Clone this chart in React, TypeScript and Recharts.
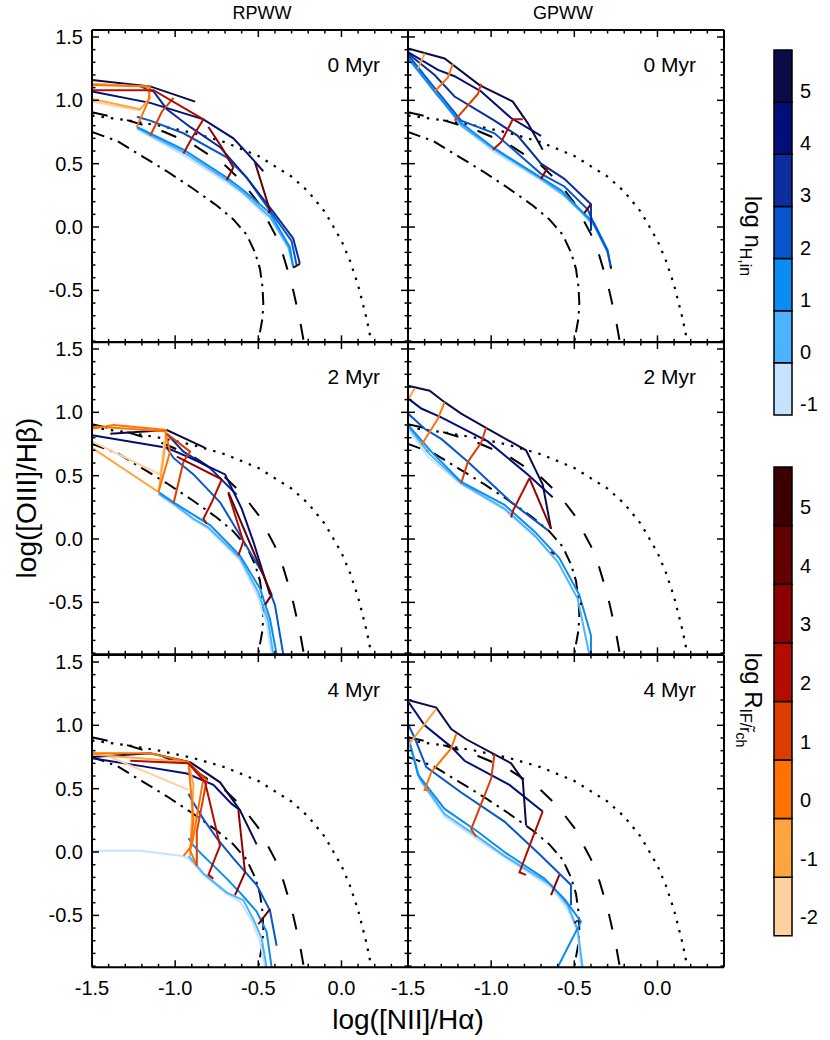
import React from "react";
import { ComposedChart, Line, XAxis, YAxis, BarChart, Bar } from "recharts";

type Pt = [number, number];
type Track = { v: number; pts: Pt[] };

// axis ticks (0.1 minor steps, labels on multiples of 0.5)
const xTicks = [-1.5, -1.4, -1.3, -1.2, -1.1, -1.0, -0.9, -0.8, -0.7, -0.6, -0.5, -0.4, -0.3, -0.2, -0.1, 0.0, 0.1, 0.2, 0.3];
const yTicks = [-0.9, -0.8, -0.7, -0.6, -0.5, -0.4, -0.3, -0.2, -0.1, 0.0, 0.1, 0.2, 0.3, 0.4, 0.5, 0.6, 0.7, 0.8, 0.9, 1.0, 1.1, 1.2, 1.3, 1.4, 1.5];

// demarcation curves
const kewley01: Pt[] = [[-1.5, 0.88], [-1.3, 0.845], [-1.1, 0.801], [-0.9, 0.745], [-0.7, 0.669], [-0.5, 0.561], [-0.3, 0.398], [-0.2, 0.28], [-0.1, 0.12], [0.0, -0.108], [0.05, -0.262], [0.1, -0.459], [0.15, -0.716], [0.18, -0.91]];
const kauffmann03: Pt[] = [[-1.5, 0.906], [-1.3, 0.848], [-1.1, 0.77], [-0.9, 0.658], [-0.7, 0.487], [-0.6, 0.362], [-0.5, 0.191], [-0.4, -0.056], [-0.35, -0.225], [-0.3, -0.443], [-0.25, -0.733], [-0.226, -0.91]];
const dashDotCurve: Pt[] = [[-1.5, 0.75], [-1.35, 0.68], [-1.2, 0.56], [-1.05, 0.44], [-0.9, 0.31], [-0.75, 0.17], [-0.65, 0.06], [-0.57, -0.06], [-0.52, -0.2], [-0.49, -0.33], [-0.475, -0.47], [-0.47, -0.6], [-0.475, -0.72], [-0.49, -0.83], [-0.5, -0.91]];

const nhLevels = [-1, 0, 1, 2, 3, 4, 5];
const rLevels = [-2, -1, 0, 1, 2, 3, 4, 5];
const panelAges = ["0 Myr", "2 Myr", "4 Myr"];
const columnNames = ["RPWW", "GPWW"];

// RPWW, 0 Myr
const rpww0Blue: Track[] = [
  { v: 5, pts: [[-1.5, 1.16], [-1.15, 1.11], [-0.88, 0.99]] },
  { v: 4, pts: [[-1.5, 1.07], [-1.15, 0.98], [-0.83, 0.85], [-0.65, 0.7], [-0.53, 0.53], [-0.47, 0.44]] },
  { v: 3, pts: [[-1.21, 1.11], [-1.13, 1.07], [-1.05, 0.93], [-0.91, 0.79], [-0.73, 0.63], [-0.57, 0.39], [-0.41, 0.12], [-0.29, -0.09], [-0.25, -0.29]] },
  { v: 2, pts: [[-1.23, 0.87], [-1.15, 0.84], [-0.95, 0.74], [-0.69, 0.55], [-0.57, 0.39], [-0.43, 0.13], [-0.3, -0.11], [-0.27, -0.3]] },
  { v: 1, pts: [[-1.23, 0.79], [-0.95, 0.61], [-0.69, 0.39], [-0.59, 0.29], [-0.43, 0.11], [-0.31, -0.16], [-0.29, -0.32]] },
  { v: 0, pts: [[-1.23, 0.78], [-0.95, 0.59], [-0.69, 0.37], [-0.59, 0.27], [-0.43, 0.08], [-0.32, -0.16], [-0.29, -0.31]] },
  { v: -1, pts: [[-1.23, 0.77], [-0.95, 0.57], [-0.69, 0.35], [-0.59, 0.26], [-0.45, 0.08]] },
];
const rpww0Red: Track[] = [
  { v: -2, pts: [[-1.5, 0.99], [-1.21, 0.92]] },
  { v: -1, pts: [[-1.5, 1.01], [-1.21, 0.93], [-1.15, 1.02], [-1.17, 1.11], [-1.5, 1.13]] },
  { v: 0, pts: [[-1.5, 1.12], [-1.15, 1.11], [-1.16, 1.0], [-1.23, 0.79]] },
  { v: 1, pts: [[-1.01, 1.02], [-1.08, 0.91], [-1.15, 0.72]] },
  { v: 2, pts: [[-1.5, 1.08], [-1.13, 1.08], [-0.83, 0.85], [-0.9, 0.7], [-0.95, 0.58]] },
  { v: 3, pts: [[-0.8, 0.79], [-0.72, 0.63], [-0.65, 0.47], [-0.69, 0.37]] },
  { v: 4, pts: [[-0.52, 0.51], [-0.43, 0.13], [-0.44, 0.11]] },
  { v: 5, pts: [[-0.29, -0.32], [-0.25, -0.29]] },
];

// GPWW, 0 Myr
const gpww0Blue: Track[] = [
  { v: 5, pts: [[-1.5, 1.41], [-1.28, 1.33], [-1.07, 1.12], [-0.87, 0.99], [-0.78, 0.82], [-0.69, 0.61]] },
  { v: 4, pts: [[-1.5, 1.38], [-1.32, 1.24], [-1.22, 1.19], [-1.06, 1.07], [-0.88, 0.86], [-0.7, 0.72]] },
  { v: 3, pts: [[-1.5, 1.37], [-1.34, 1.2], [-1.22, 1.03], [-0.98, 0.84], [-0.84, 0.72], [-0.7, 0.5], [-0.56, 0.38], [-0.4, 0.18], [-0.4, -0.03]] },
  { v: 2, pts: [[-1.5, 1.36], [-1.36, 1.13], [-1.18, 0.84], [-0.98, 0.74], [-0.7, 0.42], [-0.56, 0.32], [-0.42, 0.14], [-0.38, 0.02], [-0.3, -0.19], [-0.28, -0.32]] },
  { v: 1, pts: [[-1.5, 1.34], [-1.33, 1.05], [-1.18, 0.82], [-0.98, 0.62], [-0.7, 0.39], [-0.58, 0.29], [-0.46, 0.13], [-0.38, 0.03], [-0.3, -0.18], [-0.28, -0.32]] },
  { v: 0, pts: [[-1.5, 1.33], [-1.32, 1.04], [-1.18, 0.8], [-0.98, 0.61], [-0.7, 0.38], [-0.58, 0.27], [-0.46, 0.12], [-0.38, 0.01], [-0.3, -0.2], [-0.28, -0.32]] },
  { v: -1, pts: [[-1.5, 1.33], [-1.31, 1.03], [-1.17, 0.79], [-0.98, 0.59], [-0.7, 0.37], [-0.58, 0.26]] },
];
const gpww0Red: Track[] = [
  { v: -1, pts: [[-1.4, 1.37], [-1.44, 1.25]] },
  { v: 0, pts: [[-1.23, 1.29], [-1.26, 1.18], [-1.34, 1.07]] },
  { v: 1, pts: [[-1.06, 1.13], [-1.08, 1.05], [-1.22, 0.84]] },
  { v: 2, pts: [[-0.81, 0.85], [-0.87, 0.85], [-0.94, 0.67], [-0.99, 0.61]] },
  { v: 3, pts: [[-0.66, 0.47], [-0.7, 0.38]] },
  { v: 4, pts: [[-0.4, 0.18], [-0.44, 0.11]] },
  { v: 5, pts: [[-0.28, -0.31], [-0.28, -0.33]] },
];

// RPWW, 2 Myr
const rpww2Blue: Track[] = [
  { v: 5, pts: [[-1.39, 0.83], [-1.05, 0.86], [-0.82, 0.72]] },
  { v: 4, pts: [[-1.5, 0.82], [-1.05, 0.72], [-0.91, 0.64], [-0.7, 0.51], [-0.6, 0.24], [-0.53, -0.02], [-0.43, -0.44]] },
  { v: 3, pts: [[-1.05, 0.83], [-0.95, 0.69], [-0.79, 0.56], [-0.63, 0.35]] },
  { v: 2, pts: [[-1.05, 0.72], [-1.01, 0.64], [-0.89, 0.51], [-0.73, 0.29], [-0.61, 0.03], [-0.47, -0.28], [-0.4, -0.52], [-0.35, -0.91]] },
  { v: 1, pts: [[-1.1, 0.37], [-1.01, 0.29], [-0.89, 0.19], [-0.79, 0.11], [-0.61, -0.13], [-0.49, -0.39], [-0.43, -0.63], [-0.39, -0.91]] },
  { v: 0, pts: [[-1.1, 0.36], [-1.01, 0.28], [-0.89, 0.16], [-0.8, 0.09], [-0.61, -0.15], [-0.5, -0.42], [-0.44, -0.65], [-0.41, -0.91]] },
  { v: -1, pts: [[-1.1, 0.35], [-1.01, 0.27], [-0.89, 0.15], [-0.8, 0.08], [-0.61, -0.17], [-0.51, -0.43], [-0.45, -0.67], [-0.42, -0.91]] },
];
const rpww2Red: Track[] = [
  { v: -2, pts: [[-1.5, 0.77], [-1.09, 0.51], [-1.06, 0.82]] },
  { v: -1, pts: [[-1.5, 0.72], [-1.1, 0.37], [-1.07, 0.64], [-1.05, 0.84]] },
  { v: 0, pts: [[-1.5, 0.89], [-1.06, 0.85], [-1.03, 0.69], [-1.07, 0.51], [-1.1, 0.37]] },
  { v: 0, pts: [[-1.5, 0.87], [-1.37, 0.9], [-1.05, 0.86]] },
  { v: 1, pts: [[-1.05, 0.83], [-0.91, 0.69], [-0.95, 0.61], [-1.01, 0.28]] },
  { v: 2, pts: [[-0.72, 0.47], [-0.78, 0.29], [-0.83, 0.16], [-0.81, 0.12]] },
  { v: 3, pts: [[-0.99, 0.65], [-0.72, 0.47]] },
  { v: 2, pts: [[-0.68, 0.36], [-0.59, -0.02], [-0.62, -0.13]] },
  { v: 4, pts: [[-0.68, 0.37], [-0.5, -0.19], [-0.42, -0.44], [-0.46, -0.52]] },
];

// GPWW, 2 Myr
const gpww2Blue: Track[] = [
  { v: 5, pts: [[-1.5, 1.21], [-1.37, 1.17], [-1.28, 1.08], [-1.18, 0.99], [-1.02, 0.87], [-0.79, 0.7], [-0.72, 0.51], [-0.69, 0.43], [-0.64, 0.08]] },
  { v: 4, pts: [[-1.5, 1.11], [-1.42, 1.03], [-1.3, 0.96], [-1.02, 0.77], [-0.78, 0.51], [-0.63, 0.33]] },
  { v: 2, pts: [[-1.5, 0.99], [-1.4, 0.87], [-1.3, 0.79], [-1.14, 0.61], [-0.88, 0.29], [-0.66, 0.07]] },
  { v: 1, pts: [[-1.5, 0.9], [-1.36, 0.69], [-1.18, 0.45], [-0.92, 0.27], [-0.74, 0.06], [-0.59, -0.15], [-0.47, -0.44], [-0.4, -0.76], [-0.4, -0.91]] },
  { v: 0, pts: [[-1.5, 0.89], [-1.37, 0.67], [-1.18, 0.44], [-0.92, 0.24], [-0.74, 0.03], [-0.6, -0.18], [-0.48, -0.47], [-0.41, -0.91]] },
  { v: -1, pts: [[-1.5, 0.87], [-1.38, 0.65], [-1.18, 0.43], [-0.92, 0.23], [-0.74, 0.02]] },
];
const gpww2Red: Track[] = [
  { v: -1, pts: [[-1.46, 1.19], [-1.5, 1.1]] },
  { v: 0, pts: [[-1.28, 1.08], [-1.32, 0.95], [-1.42, 0.74]] },
  { v: 1, pts: [[-1.03, 0.88], [-1.06, 0.76], [-1.14, 0.61], [-1.18, 0.44]] },
  { v: 2, pts: [[-0.77, 0.48], [-0.87, 0.22], [-0.88, 0.17]] },
  { v: 3, pts: [[-0.77, 0.48], [-0.64, 0.08]] },
  { v: 4, pts: [[-0.64, -0.1], [-0.62, -0.12]] },
  { v: 5, pts: [[-0.46, -0.5], [-0.46, -0.52]] },
];

// RPWW, 4 Myr
const rpww4Blue: Track[] = [
  { v: 5, pts: [[-1.5, 0.75], [-1.15, 0.78], [-0.91, 0.71], [-0.73, 0.55], [-0.61, 0.33], [-0.51, 0.06]] },
  { v: 4, pts: [[-1.5, 0.74], [-1.21, 0.68], [-0.93, 0.62], [-0.77, 0.53], [-0.66, 0.38], [-0.61, 0.33]] },
  { v: 2, pts: [[-0.92, 0.46], [-0.9, 0.41], [-0.83, 0.26], [-0.75, 0.11], [-0.65, -0.05], [-0.51, -0.26], [-0.43, -0.46], [-0.39, -0.74]] },
  { v: 1, pts: [[-0.92, 0.11], [-0.89, 0.05], [-0.83, -0.03], [-0.69, -0.21], [-0.61, -0.32], [-0.51, -0.47], [-0.45, -0.63], [-0.42, -0.91]] },
  { v: 0, pts: [[-0.92, -0.03], [-0.83, -0.17], [-0.69, -0.32], [-0.59, -0.38], [-0.53, -0.53], [-0.48, -0.68], [-0.45, -0.91]] },
  { v: -1, pts: [[-1.5, 0.01], [-1.21, 0.01], [-0.97, -0.03], [-0.92, -0.05], [-0.83, -0.18], [-0.69, -0.33], [-0.61, -0.39], [-0.54, -0.54], [-0.49, -0.7], [-0.46, -0.91]] },
];
const rpww4Red: Track[] = [
  { v: -2, pts: [[-1.39, 0.75], [-0.92, 0.49]] },
  { v: -1, pts: [[-1.5, 0.77], [-0.92, 0.71], [-0.89, 0.53], [-0.91, -0.03]] },
  { v: 0, pts: [[-1.5, 0.78], [-1.15, 0.78], [-0.92, 0.71], [-0.83, 0.58], [-0.9, 0.05], [-0.95, -0.03]] },
  { v: 0, pts: [[-0.92, 0.7], [-0.89, 0.26], [-0.91, 0.01], [-0.87, -0.11]] },
  { v: 1, pts: [[-0.91, 0.69], [-0.81, 0.57], [-0.87, 0.16], [-0.87, -0.11]] },
  { v: 2, pts: [[-1.27, 0.72], [-0.92, 0.7], [-0.82, 0.55], [-0.73, 0.05], [-0.8, -0.18], [-0.77, -0.21]] },
  { v: 3, pts: [[-0.62, 0.33], [-0.58, -0.16], [-0.64, -0.34]] },
  { v: 4, pts: [[-0.43, -0.45], [-0.5, -0.57]] },
];

// GPWW, 4 Myr
const gpww4Blue: Track[] = [
  { v: 5, pts: [[-1.5, 1.2], [-1.33, 1.14], [-1.24, 0.97], [-1.15, 0.89], [-0.98, 0.77], [-0.88, 0.7], [-0.81, 0.57], [-0.79, 0.21]] },
  { v: 4, pts: [[-1.5, 1.19], [-1.4, 1.0], [-1.24, 0.83], [-1.16, 0.72], [-0.89, 0.53], [-0.69, 0.32]] },
  { v: 2, pts: [[-1.5, 1.01], [-1.46, 0.9], [-1.39, 0.67], [-1.18, 0.47], [-0.92, 0.24], [-0.7, -0.03], [-0.52, -0.26], [-0.52, -0.42]] },
  { v: 1, pts: [[-1.5, 0.92], [-1.44, 0.61], [-1.28, 0.34], [-1.08, 0.16], [-0.92, 0.0], [-0.68, -0.21], [-0.56, -0.37], [-0.46, -0.55], [-0.6, -0.91]] },
  { v: 0, pts: [[-1.5, 0.89], [-1.43, 0.58], [-1.28, 0.3], [-1.08, 0.12], [-0.92, -0.03], [-0.64, -0.26], [-0.54, -0.42], [-0.48, -0.61], [-0.45, -0.91]] },
  { v: -1, pts: [[-1.49, 0.87], [-1.42, 0.55], [-1.28, 0.28], [-1.08, 0.1], [-0.92, -0.04], [-0.64, -0.28], [-0.54, -0.45], [-0.48, -0.63], [-0.46, -0.91]] },
];
const gpww4Red: Track[] = [
  { v: -2, pts: [[-1.5, 1.2], [-1.49, 1.19]] },
  { v: -1, pts: [[-1.33, 1.13], [-1.5, 0.84]] },
  { v: 0, pts: [[-1.21, 0.93], [-1.24, 0.82], [-1.36, 0.63], [-1.4, 0.49], [-1.37, 0.49]] },
  { v: 1, pts: [[-0.98, 0.77], [-1.0, 0.58], [-1.12, 0.18], [-1.09, 0.12]] },
  { v: 2, pts: [[-0.69, 0.32], [-0.83, -0.16], [-0.79, -0.18]] },
  { v: 3, pts: [[-0.59, -0.18], [-0.64, -0.34]] },
  { v: 4, pts: [[-0.5, -0.56], [-0.48, -0.54]] },
];

const NH_COLORS: Record<number, string> = {
  [-1]: "#c4e3ff", 0: "#4db3ff", 1: "#0a8cf2", 2: "#0657cd", 3: "#0b2e9c", 4: "#020f78", 5: "#0b0b48",
};
const R_COLORS: Record<number, string> = {
  [-2]: "#ffd19e", [-1]: "#ffa540", 0: "#ff7200", 1: "#dc3d00", 2: "#b40d00", 3: "#8e0000", 4: "#650000", 5: "#3d0000",
};

const FONT = "'Liberation Sans', Arial, Helvetica, sans-serif";
const PLOT_W = 316;
const PLOT_H = 312.33;
const ML = 60;
const MB = 40;
const COLS = [92, 408];
const ROWS = [30, 342.33, 654.67];
const TITLE_X = [262, 563];

const xy = (pts: Pt[]) => pts.map(([x, y]) => ({ x, y }));

function AxisTick(props: any) {
  const { x, y, payload, side, labelled } = props;
  const v = Number(payload.value);
  const major = Math.abs(v * 2 - Math.round(v * 2)) < 1e-6;
  const len = major ? 7 : 3.5;
  let line;
  if (side === "bottom") line = <line x1={x} y1={y} x2={x} y2={y - len} />;
  else if (side === "top") line = <line x1={x} y1={y} x2={x} y2={y + len} />;
  else if (side === "left") line = <line x1={x} y1={y} x2={x + len} y2={y} />;
  else line = <line x1={x} y1={y} x2={x - len} y2={y} />;
  return (
    <g>
      <g stroke="#000" strokeWidth={1.5}>{line}</g>
      {labelled && major && side === "bottom" && (
        <text x={x} y={y + 28} textAnchor="middle" fontSize={20} fontFamily={FONT} fill="#000">{v.toFixed(1)}</text>
      )}
      {labelled && major && side === "left" && (
        <text x={x - 9} y={y + 7} textAnchor="end" fontSize={20} fontFamily={FONT} fill="#000">{v.toFixed(1)}</text>
      )}
    </g>
  );
}

const frame = { stroke: "#000", strokeWidth: 2 };

function Panel({ col, row, blue, red }: { col: number; row: number; blue: Track[]; red: Track[] }) {
  const xLab = row === 2;
  const yLab = col === 0;
  const blueSorted = [...blue].sort((a, b) => a.v - b.v);
  const redSorted = [...red].sort((a, b) => a.v - b.v);
  return (
    <div style={{ position: "absolute", left: COLS[col] - ML, top: ROWS[row] - 10 }}>
      <ComposedChart width={ML + PLOT_W + 10} height={10 + PLOT_H + MB} margin={{ top: 0, right: 0, bottom: 0, left: 0 }}>
        <XAxis xAxisId="b" type="number" dataKey="x" domain={[-1.5, 0.4]} allowDataOverflow ticks={xTicks} interval={0}
          height={MB} tickSize={0} tickMargin={0} axisLine={frame} tickLine={false}
          tick={(p: any) => <AxisTick {...p} side="bottom" labelled={xLab} />} />
        <XAxis xAxisId="t" orientation="top" type="number" dataKey="x" domain={[-1.5, 0.4]} allowDataOverflow ticks={xTicks} interval={0}
          height={10} tickSize={0} tickMargin={0} axisLine={frame} tickLine={false}
          tick={(p: any) => <AxisTick {...p} side="top" />} />
        <YAxis yAxisId="l" type="number" dataKey="y" domain={[-0.91, 1.555]} allowDataOverflow ticks={yTicks} interval={0}
          width={ML} tickSize={0} tickMargin={0} axisLine={frame} tickLine={false}
          tick={(p: any) => <AxisTick {...p} side="left" labelled={yLab} />} />
        <YAxis yAxisId="r" orientation="right" type="number" dataKey="y" domain={[-0.91, 1.555]} allowDataOverflow ticks={yTicks} interval={0}
          width={10} tickSize={0} tickMargin={0} axisLine={frame} tickLine={false}
          tick={(p: any) => <AxisTick {...p} side="right" />} />
        <Line xAxisId="t" yAxisId="r" data={xy(kewley01)} dataKey="y" stroke="none" dot={false} isAnimationActive={false} />
        <Line xAxisId="b" yAxisId="l" data={xy(kewley01)} dataKey="y" stroke="#000" strokeWidth={2.2} strokeDasharray="2.5 7" dot={false} isAnimationActive={false} />
        <Line xAxisId="b" yAxisId="l" data={xy(kauffmann03)} dataKey="y" stroke="#000" strokeWidth={2} strokeDasharray="16 20" dot={false} isAnimationActive={false} />
        <Line xAxisId="b" yAxisId="l" data={xy(dashDotCurve)} dataKey="y" stroke="#000" strokeWidth={2} strokeDasharray="13 6 2.5 6" dot={false} isAnimationActive={false} />
        {blueSorted.map((t, i) => (
          <Line key={"b" + i} xAxisId="b" yAxisId="l" data={xy(t.pts)} dataKey="y" stroke={NH_COLORS[t.v]} strokeWidth={2}
            dot={false} isAnimationActive={false} />
        ))}
        {redSorted.map((t, i) => (
          <Line key={"r" + i} xAxisId="b" yAxisId="l" data={xy(t.pts)} dataKey="y" stroke={R_COLORS[t.v]} strokeWidth={2}
            dot={false} isAnimationActive={false} />
        ))}
      </ComposedChart>
    </div>
  );
}

function ColorBar({ top, height, levels, colors, labelDy }: { top: number; height: number; levels: number[]; colors: Record<number, string>; labelDy: number }) {
  const row: Record<string, number | string> = { name: "bar" };
  levels.forEach((_, i) => { row["s" + i] = 1; });
  return (
    <div style={{ position: "absolute", left: 772, top: top - 2 }}>
      <BarChart width={2 + 18 + 45} height={height + 4} data={[row]} margin={{ top: 2, right: 0, bottom: 2, left: 2 }}
        barCategoryGap={0} barGap={0}>
        <XAxis dataKey="name" hide />
        <YAxis orientation="right" type="number" width={45} domain={[0, levels.length]} ticks={levels.map((_, i) => i + 0.5)}
          interval={0} tickSize={0} tickMargin={0} axisLine={false} tickLine={false}
          tick={(p: any) => (
            <text x={p.x + 8} y={p.y + labelDy} fontSize={20} fontFamily={FONT} fill="#000">
              {levels[Math.floor(Number(p.payload.value))]}
            </text>
          )} />
        {levels.map((v, i) => (
          <Bar key={v} dataKey={"s" + i} stackId="c" fill={colors[v]} stroke="#000" strokeWidth={1.5} isAnimationActive={false} />
        ))}
      </BarChart>
    </div>
  );
}

export default function App() {
  const panels: [number, number, Track[], Track[]][] = [
    [0, 0, rpww0Blue, rpww0Red], [1, 0, gpww0Blue, gpww0Red],
    [0, 1, rpww2Blue, rpww2Red], [1, 1, gpww2Blue, gpww2Red],
    [0, 2, rpww4Blue, rpww4Red], [1, 2, gpww4Blue, gpww4Red],
  ];
  return (
    <div style={{ position: "absolute", left: 0, top: 0, width: 830, height: 1040, background: "#fff", fontFamily: FONT }}>
      {panels.map(([c, r, b, rd]) => <Panel key={`${c}-${r}`} col={c} row={r} blue={b} red={rd} />)}
      <ColorBar top={50} height={365} levels={nhLevels} colors={NH_COLORS} labelDy={22} />
      <ColorBar top={466.7} height={468.8} levels={rLevels} colors={R_COLORS} labelDy={18} />
      <svg width={830} height={1040} style={{ position: "absolute", left: 0, top: 0, pointerEvents: "none" }} fontFamily={FONT}>
        {columnNames.map((n, c) => (
          <text key={n} x={TITLE_X[c]} y={19} textAnchor="middle" fontSize={18}>{n}</text>
        ))}
        {ROWS.map((top, r) => COLS.map((left) => (
          <text key={`${r}-${left}`} x={left + PLOT_W - 28} y={top + 42} textAnchor="end" fontSize={21}>{panelAges[r]}</text>
        )))}
        <text transform="translate(36,498) rotate(-90)" textAnchor="middle" fontSize={28}>log([OIII]/Hβ)</text>
        <text x={408} y={1029} textAnchor="middle" fontSize={28}>log([NII]/Hα)</text>
        <text transform="translate(745,236) rotate(90)" textAnchor="middle" fontSize={24}>
          log n<tspan dy={5} fontSize={16}>H,in</tspan>
        </text>
        <text transform="translate(745,700) rotate(90)" textAnchor="middle" fontSize={24}>
          log R<tspan dy={5} fontSize={16}>IF</tspan><tspan fontSize={16}>/r̃</tspan><tspan dy={4} fontSize={14}>ch</tspan>
        </text>
      </svg>
    </div>
  );
}
